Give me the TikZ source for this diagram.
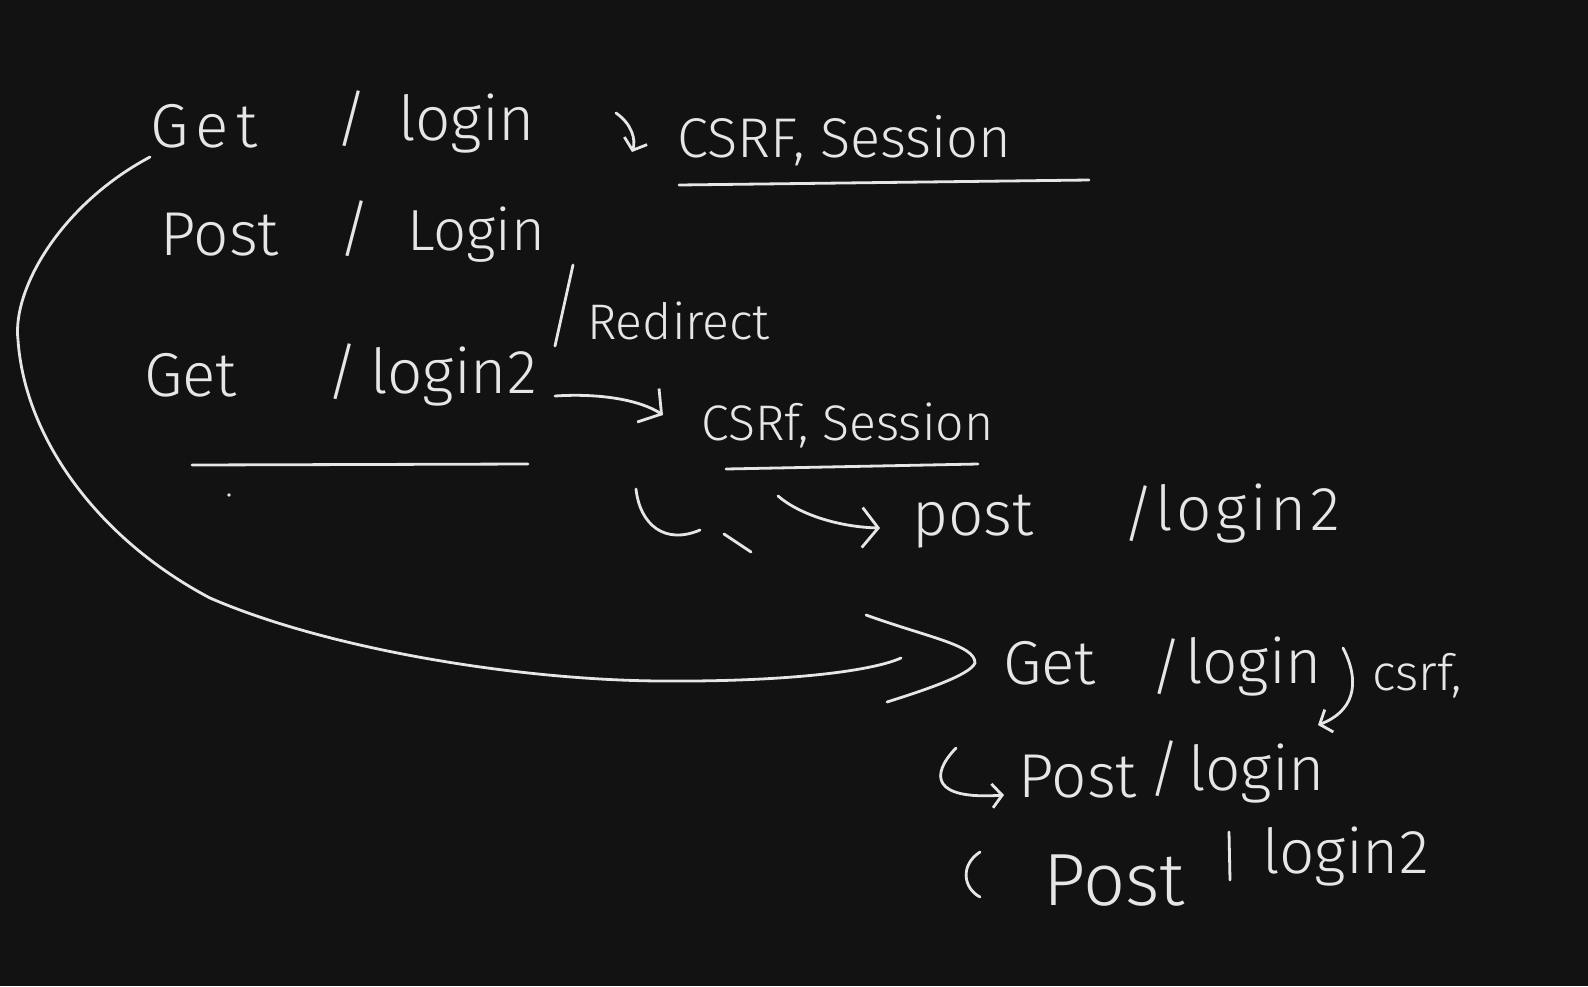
\documentclass[tikz,border=0pt]{standalone}
\usepackage{fontspec}
\setmainfont{Fira Sans Light}
\usetikzlibrary{arrows.meta}
\definecolor{bg}{HTML}{121212}
\definecolor{ink}{HTML}{E6E6E6}
\begin{document}
\begin{tikzpicture}[x=1pt,y=-1pt,
  hw/.style={font=\fontsize{62}{62}\selectfont, text=ink, inner sep=0pt, anchor=base west},
  hwm/.style={hw, font=\fontsize{50}{50}\selectfont},
  pen/.style={draw=ink, line width=2.8pt, line cap=round, line join=round},
  barb/.style={-{Straight Barb[length=16pt,width=40pt,line width=2.8pt]}},
  sbarb/.style={-{Straight Barb[length=10pt,width=24pt,line width=2.8pt]}}]
\fill[bg] (0,0) rectangle (1588,986);
\useasboundingbox (0,0) rectangle (1588,986);

% line 1
\node[hw] (g1) at (150,147) {\addfontfeature{LetterSpace=12}Get};
\node[hw] (s1) at (335,140) {/};
\node[hw] (l1) at (398,140) {login};
\coordinate (h1s) at (616,113);
\node[hwm] (c1) at (677,157) {\fontsize{56}{56}\selectfont CSRF, Session};
\draw[pen,sbarb] (h1s) .. controls (632,124) and (636,140) .. ([xshift=-45pt,yshift=5pt]c1.base west);
\draw[pen] (679,185) -- (1089,180);

% line 2
\node[hw] (p2) at (160,255) {Post};
\node[hw] (s2) at (338,250) {/};
\node[hw] (l2) at (407,250) {\fontsize{58}{58}\selectfont Login};
\draw[pen] (573,265) -- (555,346);
\node[hwm] (r2) at (587,339) {Redirect};

% line 3
\node[hw] (g3) at (144,396) {Get};
\node[hw] (s3) at (326,393) {/};
\node[hw] (l3) at (370,393) {login2};
\draw[pen] (192,465) -- (528,464);
\fill[ink] (229,495) circle (1.8pt);

\node[hwm] (c2) at (701,440) {CSRf, Session};
\coordinate (a2s) at (555,396);
\draw[pen,barb] (a2s) .. controls (600,393) and (640,400) .. ([xshift=-38pt,yshift=25pt]c2.base west);
\draw[pen] (726,469) -- (978,464);

% hook to post /login2
\coordinate (k3s) at (636,489);
\coordinate (k3e) at (700,530);
\draw[pen] (k3s) .. controls (640,525) and (665,545) .. (k3e);
\draw[pen] (724,534) -- (751,552);
\coordinate (a3s) at (778,496);
\node[hw] (p3) at (912,535) {post};
\node[hw] (s3b) at (1122,535) {/};
\node[hw] (l3b) at (1155,530) {\addfontfeature{LetterSpace=6}login2};
\draw[pen,barb] (a3s) .. controls (800,515) and (840,527) .. ([xshift=-32pt,yshift=7pt]p3.base west);

% lower block
\node[hw] (g4) at (1003,684) {Get};
\node[hw] (s4) at (1150,688) {/};
\node[hw] (l4) at (1185,683) {login};
\node[hwm] (c4) at (1372,690) {csrf,};

\node[hw] (p5) at (1018,797) {Post};
\node[hw] (s5) at (1148,790) {/};
\node[hw] (l5) at (1188,790) {login};

\node[hw] (p6) at (1043,905) {\fontsize{74}{74}\selectfont Post};
\draw[pen] (1229,832) -- (1230,880);
\node[hw] (l6) at (1262,873) {login2};
\draw[pen] (980,852) .. controls (960,865) and (963,888) .. (980,897);

% big curve from Get /login to lower Get /login
\coordinate (bs) at (150,157);
\coordinate (be) at (901,658);
\draw[pen] (bs) .. controls (60,205) and (12,290) .. (18,340)
  .. controls (25,440) and (100,540) .. (210,598)
  .. controls (330,650) and (520,680) .. (660,681)
  .. controls (780,682) and (870,672) .. (be);
\draw[pen] (866,615) .. controls (930,638) and (975,645) .. ([xshift=-28pt,yshift=21pt]g4.base west)
  .. controls (970,675) and (925,690) .. (887,702);

% csrf hook to Post / login
\coordinate (k4s) at (1343,648);
\draw[pen,sbarb] (k4s) .. controls (1362,685) and (1352,712) .. ([xshift=-54pt,yshift=-35pt]c4.base west);

% hook into Post / login
\coordinate (k5s) at (956,748);
\draw[pen,sbarb] (k5s) .. controls (930,775) and (932,800) .. ([xshift=-14pt,yshift=2pt]p5.base west);
\end{tikzpicture}
\end{document}
